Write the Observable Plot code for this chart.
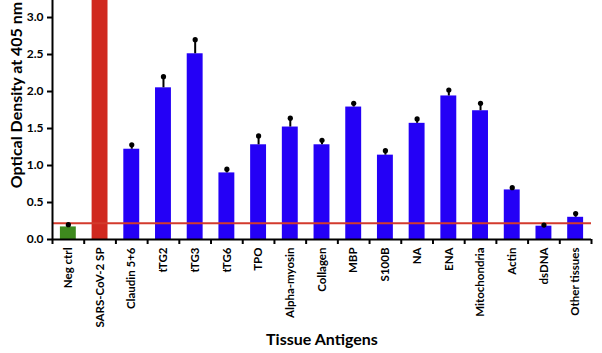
<!DOCTYPE html>
<html><head><meta charset="utf-8">
<script src="https://cdn.jsdelivr.net/npm/d3@7"></script>
<script src="https://cdn.jsdelivr.net/npm/@observablehq/plot@0.6"></script>
<style>
html,body{margin:0;padding:0;background:#fff;}
</style>
</head><body>
<div id="chart"></div>
<script>
const categories = ["Neg ctrl","SARS-CoV-2 SP","Claudin 5+6","tTG2","tTG3","tTG6","TPO","Alpha-myosin","Collagen","MBP","S100B","NA","ENA","Mitochondria","Actin","dsDNA","Other tissues"];
const values = [0.17, 3.6, 1.22, 2.05, 2.51, 0.90, 1.28, 1.52, 1.28, 1.79, 1.14, 1.57, 1.94, 1.74, 0.67, 0.18, 0.30];
const errorTop = [0.20, null, 1.28, 2.20, 2.70, 0.95, 1.40, 1.64, 1.34, 1.84, 1.20, 1.63, 2.02, 1.84, 0.70, 0.195, 0.35];
const groups = ["control","spike","antigen","antigen","antigen","antigen","antigen","antigen","antigen","antigen","antigen","antigen","antigen","antigen","antigen","antigen","antigen"];
const cutoff = 0.22;
const yTicks = [0, 0.5, 1.0, 1.5, 2.0, 2.5, 3.0];

const data = categories.map((c, i) => ({i, name: c, value: values[i], err: errorTop[i], group: groups[i]}));
const errData = data.filter(d => d.err != null);
const FONT = "Lato, 'Open Sans', sans-serif";

const W = 602, H = 353;
const chart = Plot.plot({
  width: W, height: H,
  marginLeft: 52, marginRight: 11, marginTop: 0, marginBottom: 114,
  style: {fontFamily: FONT, background: "#fff"},
  x: {type: "linear", domain: [0, categories.length], axis: null},
  y: {domain: [0, 3.23], axis: null},
  color: {domain: ["control","spike","antigen"], range: ["#3e8a1e","#d0291f","#2400f6"]},
  marks: [
    Plot.rect(data, {x1: d => d.i, x2: d => d.i + 1, y1: () => 0, y2: "value", fill: "group", insetLeft: 7.9, insetRight: 7.9, clip: true}),
    Plot.ruleY([cutoff], {stroke: "#d33a2c", strokeWidth: 2}),
    Plot.ruleX(errData, {x: d => d.i + 0.5, y1: "value", y2: "err", stroke: "#000", strokeWidth: 2}),
    Plot.dot(errData, {x: d => d.i + 0.5, y: "err", r: 2.6, fill: "#000"}),
    Plot.axisY({ticks: yTicks, tickFormat: d3.format(".1f"), tickSize: 5, tickPadding: 4, fontSize: 12, fontWeight: "bold", strokeWidth: 2, label: null}),
    Plot.axisX({ticks: d3.range(categories.length + 1), tickSize: 5, tickFormat: () => "", strokeWidth: 2, label: null}),
    Plot.axisX({ticks: d3.range(categories.length).map(i => i + 0.5), tickSize: 0, tickPadding: 8, tickRotate: -90, tickFormat: d => categories[Math.floor(d)], fontSize: 11.5, fontWeight: "bold", label: null}),
    Plot.ruleX([0], {stroke: "#000", strokeWidth: 2}),
    Plot.ruleY([0], {stroke: "#000", strokeWidth: 2})
  ]
});
document.getElementById("chart").appendChild(chart);
const svg = d3.select(chart);
svg.append("text")
  .attr("transform", "translate(15,95) rotate(-90)")
  .attr("text-anchor", "middle").attr("dominant-baseline", "central")
  .attr("font-family", FONT).attr("font-weight", "bold").attr("font-size", 16)
  .attr("fill", "#000")
  .text("Optical Density at 405 nm");
svg.append("text")
  .attr("x", 322).attr("y", 338)
  .attr("text-anchor", "middle").attr("dominant-baseline", "central")
  .attr("font-family", FONT).attr("font-weight", "bold").attr("font-size", 16)
  .attr("fill", "#000")
  .text("Tissue Antigens");
</script>
</body></html>
